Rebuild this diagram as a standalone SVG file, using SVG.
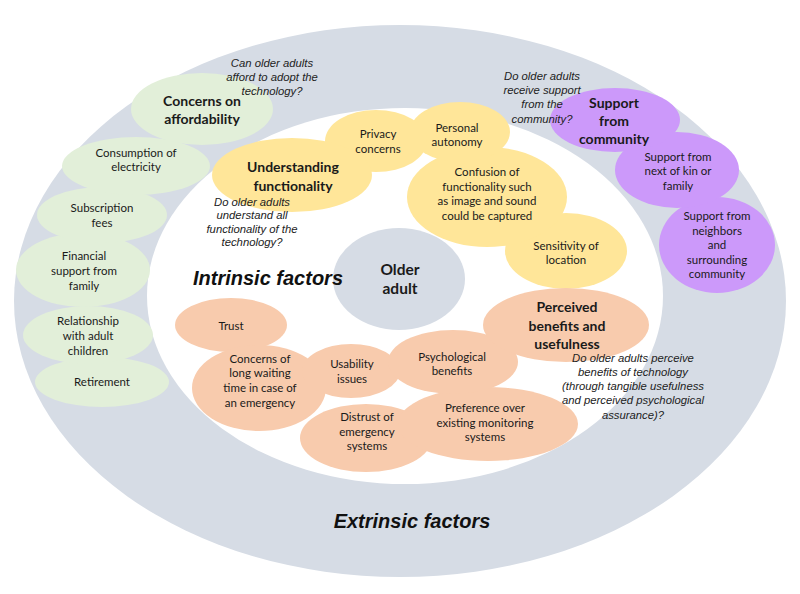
<svg xmlns="http://www.w3.org/2000/svg" width="800" height="594" viewBox="0 0 800 594">
<style>
.grey{fill:#d6dce5}
.green{fill:#e2efd9}
.yellow{fill:#ffe699}
.purple{fill:#cc99fa}
.orange{fill:#f8cbad}
text{font-family:Lato,"Open Sans","Liberation Sans",sans-serif;fill:#1a1a1a;text-anchor:middle}
.n{font-size:11.5px}
.b{font-size:14px;font-weight:bold}
.c{font-size:15.5px;font-weight:bold}
.q{font-family:"Liberation Sans",Arial,sans-serif;font-size:11.3px;font-style:italic;fill:#222}
.t{font-family:"Liberation Sans",Arial,sans-serif;font-size:20px;font-style:italic;font-weight:bold;fill:#111}
</style>
<rect width="800" height="594" fill="#ffffff"/>
<g id="rings">
<ellipse class="grey" cx="400" cy="301" rx="386" ry="276"/>
<ellipse cx="405" cy="296" rx="258" ry="188" fill="#ffffff"/>
</g>
<g id="connectors"/>
<g id="older-adult">
<ellipse class="grey" cx="399" cy="279" rx="66" ry="51"/>
<text class="c" x="400" y="275">Older</text>
<text class="c" x="400" y="294">adult</text>
</g>
<g id="retirement">
<ellipse class="green" cx="102" cy="382" rx="67" ry="25"/>
<text class="n" x="102" y="386">Retirement</text>
</g>
<g id="relationship">
<ellipse class="green" cx="88" cy="335" rx="65" ry="29"/>
<text class="n" x="88" y="325">Relationship</text>
<text class="n" x="88" y="340">with adult</text>
<text class="n" x="88" y="355">children</text>
</g>
<g id="financial-support">
<ellipse class="green" cx="83" cy="270" rx="67" ry="37"/>
<text class="n" x="84" y="260">Financial</text>
<text class="n" x="84" y="275">support from</text>
<text class="n" x="84" y="290">family</text>
</g>
<g id="subscription-fees">
<ellipse class="green" cx="102" cy="215" rx="65" ry="28"/>
<text class="n" x="102" y="212">Subscription</text>
<text class="n" x="102" y="227">fees</text>
</g>
<g id="consumption-electricity">
<ellipse class="green" cx="136" cy="166" rx="74" ry="29"/>
<text class="n" x="136" y="157">Consumption of</text>
<text class="n" x="136" y="171">electricity</text>
</g>
<g id="concerns-affordability">
<ellipse class="green" cx="202" cy="109" rx="71" ry="36"/>
<text class="b" x="202" y="106">Concerns on</text>
<text class="b" x="202" y="124">affordability</text>
</g>
<g id="sensitivity-location">
<ellipse class="yellow" cx="566" cy="251" rx="61" ry="38"/>
<text class="n" x="566" y="250">Sensitivity of</text>
<text class="n" x="566" y="264">location</text>
</g>
<g id="confusion-functionality">
<ellipse class="yellow" cx="487" cy="197" rx="80" ry="50"/>
<text class="n" x="487" y="176">Confusion of</text>
<text class="n" x="487" y="191">functionality such</text>
<text class="n" x="487" y="205">as image and sound</text>
<text class="n" x="487" y="220">could be captured</text>
</g>
<g id="personal-autonomy">
<ellipse class="yellow" cx="460" cy="132" rx="50" ry="30"/>
<text class="n" x="457" y="132">Personal</text>
<text class="n" x="457" y="146">autonomy</text>
</g>
<g id="privacy-concerns">
<ellipse class="yellow" cx="376" cy="141" rx="51" ry="31"/>
<text class="n" x="378" y="138">Privacy</text>
<text class="n" x="378" y="153">concerns</text>
</g>
<g id="understanding-functionality">
<ellipse class="yellow" cx="292" cy="175" rx="80" ry="37"/>
<text class="b" x="293" y="172">Understanding</text>
<text class="b" x="293" y="191">functionality</text>
</g>
<g id="support-neighbors">
<ellipse class="purple" cx="717" cy="245" rx="58" ry="48"/>
<text class="n" x="717" y="220">Support from</text>
<text class="n" x="717" y="235">neighbors</text>
<text class="n" x="717" y="249">and</text>
<text class="n" x="717" y="264">surrounding</text>
<text class="n" x="717" y="278">community</text>
</g>
<g id="support-kin">
<ellipse class="purple" cx="677" cy="170" rx="62" ry="38"/>
<text class="n" x="678" y="161">Support from</text>
<text class="n" x="678" y="175">next of kin or</text>
<text class="n" x="678" y="190">family</text>
</g>
<g id="support-community">
<ellipse class="purple" cx="615" cy="120" rx="65" ry="32"/>
<text class="b" x="614" y="108">Support</text>
<text class="b" x="614" y="126">from</text>
<text class="b" x="614" y="144">community</text>
</g>
<g id="trust">
<ellipse class="orange" cx="231" cy="325" rx="56" ry="27"/>
<text class="n" x="231" y="330">Trust</text>
</g>
<g id="distrust-emergency">
<ellipse class="orange" cx="366" cy="438" rx="66" ry="34"/>
<text class="n" x="367" y="421">Distrust of</text>
<text class="n" x="367" y="436">emergency</text>
<text class="n" x="367" y="450">systems</text>
</g>
<g id="preference-monitoring">
<ellipse class="orange" cx="488" cy="424" rx="90" ry="37"/>
<text class="n" x="485" y="412">Preference over</text>
<text class="n" x="485" y="427">existing monitoring</text>
<text class="n" x="485" y="441">systems</text>
</g>
<g id="concerns-waiting">
<ellipse class="orange" cx="259" cy="388" rx="67" ry="43"/>
<text class="n" x="260" y="363">Concerns of</text>
<text class="n" x="260" y="377">long waiting</text>
<text class="n" x="260" y="392">time in case of</text>
<text class="n" x="260" y="407">an emergency</text>
</g>
<g id="usability-issues">
<ellipse class="orange" cx="351" cy="371" rx="49" ry="27"/>
<text class="n" x="352" y="368">Usability</text>
<text class="n" x="352" y="383">issues</text>
</g>
<g id="psychological-benefits">
<ellipse class="orange" cx="453" cy="362" rx="65" ry="32"/>
<text class="n" x="452" y="361">Psychological</text>
<text class="n" x="452" y="375">benefits</text>
</g>
<g id="perceived-benefits">
<ellipse class="orange" cx="566" cy="325" rx="83" ry="37"/>
<text class="b" x="567" y="312">Perceived</text>
<text class="b" x="567" y="331">benefits and</text>
<text class="b" x="567" y="349">usefulness</text>
</g>
<g id="questions">
<text class="q" x="272" y="67">Can older adults</text>
<text class="q" x="272" y="81">afford to adopt the</text>
<text class="q" x="272" y="95">technology?</text>
<text class="q" x="252" y="206">Do older adults</text>
<text class="q" x="252" y="219">understand all</text>
<text class="q" x="252" y="233">functionality of the</text>
<text class="q" x="252" y="246">technology?</text>
<text class="q" x="542" y="80">Do older adults</text>
<text class="q" x="542" y="94">receive support</text>
<text class="q" x="542" y="108">from the</text>
<text class="q" x="542" y="123">community?</text>
<text class="q" x="633" y="362">Do older adults perceive</text>
<text class="q" x="633" y="376">benefits of technology</text>
<text class="q" x="633" y="390">(through tangible usefulness</text>
<text class="q" x="633" y="404">and perceived psychological</text>
<text class="q" x="633" y="419">assurance)?</text>
</g>
<g id="labels">
<text class="t" x="268" y="285">Intrinsic factors</text>
<text class="t" x="412" y="528">Extrinsic factors</text>
</g>
</svg>
